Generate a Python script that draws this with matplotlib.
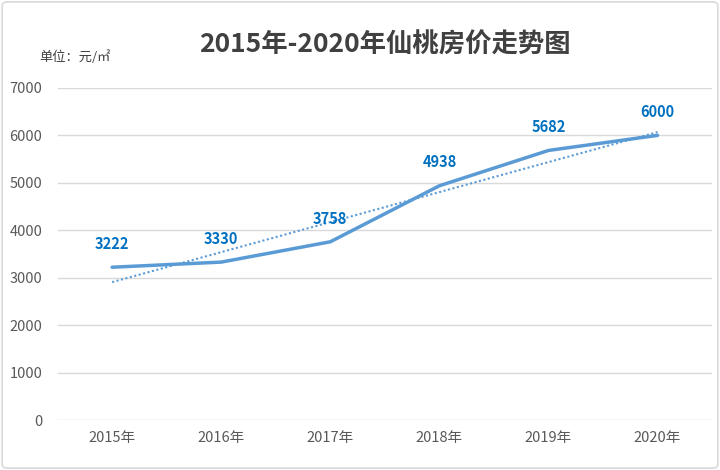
import matplotlib
matplotlib.use('Agg')
import matplotlib.pyplot as plt
import numpy as np
from matplotlib.patches import FancyBboxPatch

plt.rcParams['font.family'] = ['Noto Sans CJK SC', 'DejaVu Sans']

# 数据
years = ['2015年', '2016年', '2017年', '2018年', '2019年', '2020年']
prices = [3222, 3330, 3758, 4938, 5682, 6000]
yticks = [0, 1000, 2000, 3000, 4000, 5000, 6000, 7000]

line_color = '#5B9BD5'
label_color = '#0070C0'
text_color = '#595959'

fig = plt.figure(figsize=(7.2, 4.7), dpi=100)
ax = fig.add_axes([0.08, 0.106, 0.909, 0.707])

x = np.arange(len(years))
ax.plot(x, prices, color=line_color, lw=2.5, solid_capstyle='round', zorder=3)

# 线性趋势线
k, b = np.polyfit(x, prices, 1)
ax.plot(x, k * x + b, color=line_color, lw=1.5, ls=(0, (1, 1.2)), zorder=2)

for xi, p in zip(x, prices):
    ax.annotate(str(p), (xi, p), xytext=(0, 11), textcoords='offset points',
                ha='center', va='bottom', color=label_color,
                fontsize=10.5, fontweight='bold')

ax.set_xlim(-0.5, 5.5)
ax.set_ylim(0, 7000)
ax.set_yticks(yticks)
ax.set_xticks(x)
ax.set_xticklabels(years)
ax.grid(axis='y', color='#D9D9D9', lw=1)
ax.set_axisbelow(True)
for s in ax.spines.values():
    s.set_visible(False)
ax.tick_params(length=0, colors=text_color, labelsize=10.5)
ax.tick_params(axis='y', pad=11)
ax.tick_params(axis='x', pad=8)

fig.text(0.535, 0.905, '2015年-2020年仙桃房价走势图', ha='center', va='center',
         fontsize=19, fontweight='bold', color='#404040')
fig.text(0.055, 0.878, '单位：元/㎡', ha='left', va='center',
         fontsize=9.5, color='#404040')

border = FancyBboxPatch((0.003, 0.004), 0.994, 0.992, boxstyle='round,pad=0,rounding_size=0.008',
                        transform=fig.transFigure, fill=False, ec='#D9D9D9', lw=1.2)
fig.patches.append(border)

fig.savefig('out.png', dpi=100)
